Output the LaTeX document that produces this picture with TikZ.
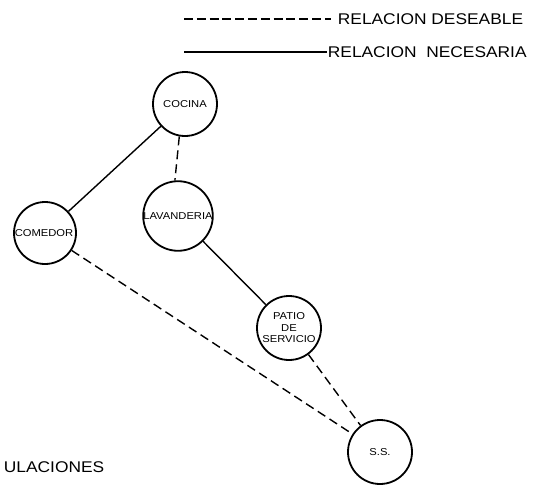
\documentclass[tikz,border=0pt]{standalone}
\usepackage{fontspec}
\setmainfont{Liberation Sans}
\newfontfamily\cadfont[FakeStretch=1.12]{Liberation Sans}
\usetikzlibrary{positioning}

\begin{document}
\begin{tikzpicture}[x=1pt, y=-1pt, line width=1.8pt,
    room/.style={circle, draw, minimum size=64pt, inner sep=0pt,
        font=\cadfont\fontsize{10}{11.5}\selectfont, align=center},
    wish/.style={dash pattern=on 9pt off 5pt, line width=1.4pt},
    need/.style={line width=1.4pt},
    legend/.style={font=\cadfont\fontsize{15.5}{17}\selectfont, inner sep=0pt, anchor=west}]
    \useasboundingbox (0,0) rectangle (543,485);

    % Legend
    \coordinate (wishstart) at (184,19);
    \node[legend] (wishtext) at (337,19) {RELACION DESEABLE};
    \draw[wish, dash pattern=on 9pt off 3.8pt, line width=2pt] (wishstart) -- ([xshift=-6pt]wishtext.west);
    \coordinate (needstart) at (184,52);
    \node[legend] (needtext) at (327,52) {RELACION \ NECESARIA};
    \draw[need, line width=1.8pt] (needstart) -- (needtext.west);

    % Rooms
    \node[room] (cocina) at (185,104) {COCINA};
    \node[room, minimum size=62pt] (comedor) at (45,233) {\hspace*{-2pt}COMEDOR};
    \node[room, minimum size=66pt] (lavanderia) at (178,216) {LAVANDERIA};
    \node[room] (patio) at (289,328) {PATIO\\DE\\SERVICIO};
    \node[room] (ss) at (380,452) {S.S.};

    % Relations
    \draw[need] (cocina) -- (comedor);
    \draw[wish] (cocina.-100) -- (lavanderia.95);
    \draw[need] (lavanderia) -- (patio);
    \draw[wish] (comedor) -- (ss);
    \draw[wish] (patio) -- (ss);

    % Cut-off title
    \node[legend] (title) at (3,467) {ULACIONES};
\end{tikzpicture}
\end{document}
